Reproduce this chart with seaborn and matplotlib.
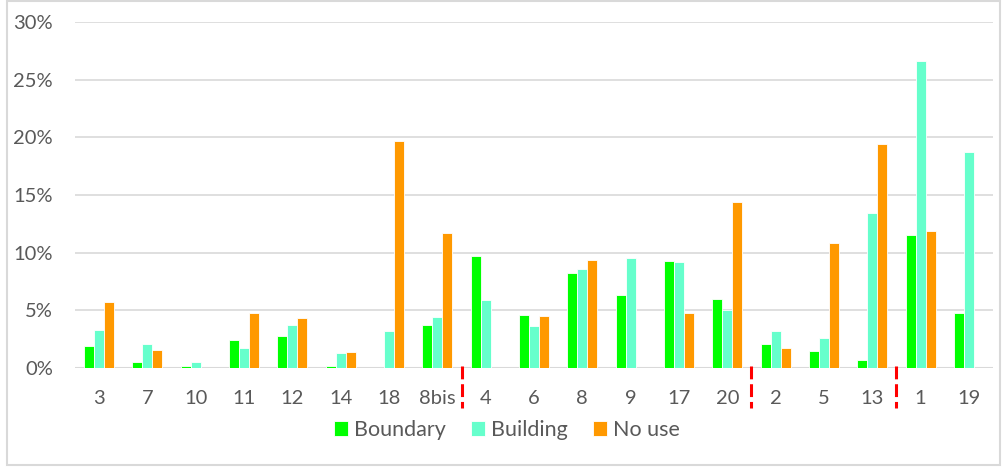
import matplotlib
matplotlib.use("Agg")
import matplotlib.pyplot as plt
import matplotlib.transforms as mtransforms
from matplotlib.patches import Rectangle
from matplotlib.ticker import FuncFormatter
import seaborn as sns
import pandas as pd

categories = ["3", "7", "10", "11", "12", "14", "18", "8bis", "4", "6", "8", "9",
              "17", "20", "2", "5", "13", "1", "19"]
boundary = [1.9, 0.5, 0.15, 2.4, 2.8, 0.2, 0.0, 3.7, 9.7, 4.6, 8.2, 6.3, 9.3, 6.0,
            2.1, 1.5, 0.7, 11.5, 4.8]
building = [3.3, 2.1, 0.5, 1.7, 3.7, 1.3, 3.2, 4.4, 5.9, 3.6, 8.6, 9.5, 9.2, 5.0,
            3.2, 2.6, 13.4, 26.6, 18.7]
no_use = [5.7, 1.6, 0.0, 4.8, 4.3, 1.4, 19.7, 11.7, 0.0, 4.5, 9.4, 0.0, 4.8, 14.4,
          1.7, 10.8, 19.4, 11.9, 0.0]
series = ["Boundary", "Building", "No use"]
colors = ["#00FF00", "#66FFCC", "#FF9900"]
separators = [7.5, 13.5, 16.5]
yticks = [0, 5, 10, 15, 20, 25, 30]

rows = []
for i, c in enumerate(categories):
    for s, vals in zip(series, [boundary, building, no_use]):
        rows.append({"cat": c, "series": s, "value": vals[i]})
df = pd.DataFrame(rows)

sns.set_theme(style="white")
plt.rcParams["font.family"] = ["Lato", "DejaVu Sans"]
text_color = "#595959"
grid_color = "#D9D9D9"

fig = plt.figure(figsize=(10.02, 4.72), dpi=100)
ax = fig.add_axes([75 / 1002, 1 - 368 / 472, 918 / 1002, 346 / 472])

sns.barplot(data=df, x="cat", y="value", hue="series", order=categories,
            hue_order=series, palette=colors, width=0.62, ax=ax,
            edgecolor="white", linewidth=0.6, saturation=1, legend=True)

ax.set_ylim(0, 30)
ax.set_xlim(-0.5, len(categories) - 0.5)
ax.set_yticks(yticks)
ax.yaxis.set_major_formatter(FuncFormatter(lambda v, p: f"{int(v)}%"))
ax.grid(axis="y", color=grid_color, linewidth=1.2)
ax.set_axisbelow(True)
for sp in ax.spines.values():
    sp.set_visible(False)
ax.axhline(0, color=grid_color, linewidth=1.5, zorder=0.5)
ax.tick_params(axis="both", length=0, labelsize=14.5, colors=text_color)
ax.tick_params(axis="y", pad=16)
ax.tick_params(axis="x", pad=16)
ax.set_xlabel("")
ax.set_ylabel("")

trans = mtransforms.blended_transform_factory(ax.transData, ax.transAxes)
for xs in separators:
    ax.plot([xs, xs], [0.005, -0.115], transform=trans, clip_on=False,
            color="#FF0000", linewidth=2.2, linestyle=(0, (4.2, 1.6)),
            solid_capstyle="butt", dash_capstyle="butt")

handles, labels = ax.get_legend_handles_labels()
ax.legend_.remove()
fig.legend(handles, labels, loc="center", bbox_to_anchor=(507 / 1002, 1 - 430 / 472),
           ncol=3, frameon=False, fontsize=15.5, labelcolor=text_color,
           handlelength=0.65, handleheight=0.65, handletextpad=0.25,
           columnspacing=1.2, borderpad=0)

fig.patches.append(Rectangle((7 / 1002, 7 / 472), 993 / 1002, 464 / 472,
                             transform=fig.transFigure, fill=False,
                             edgecolor=grid_color, linewidth=1.5))

fig.savefig("out.png", dpi=100)
